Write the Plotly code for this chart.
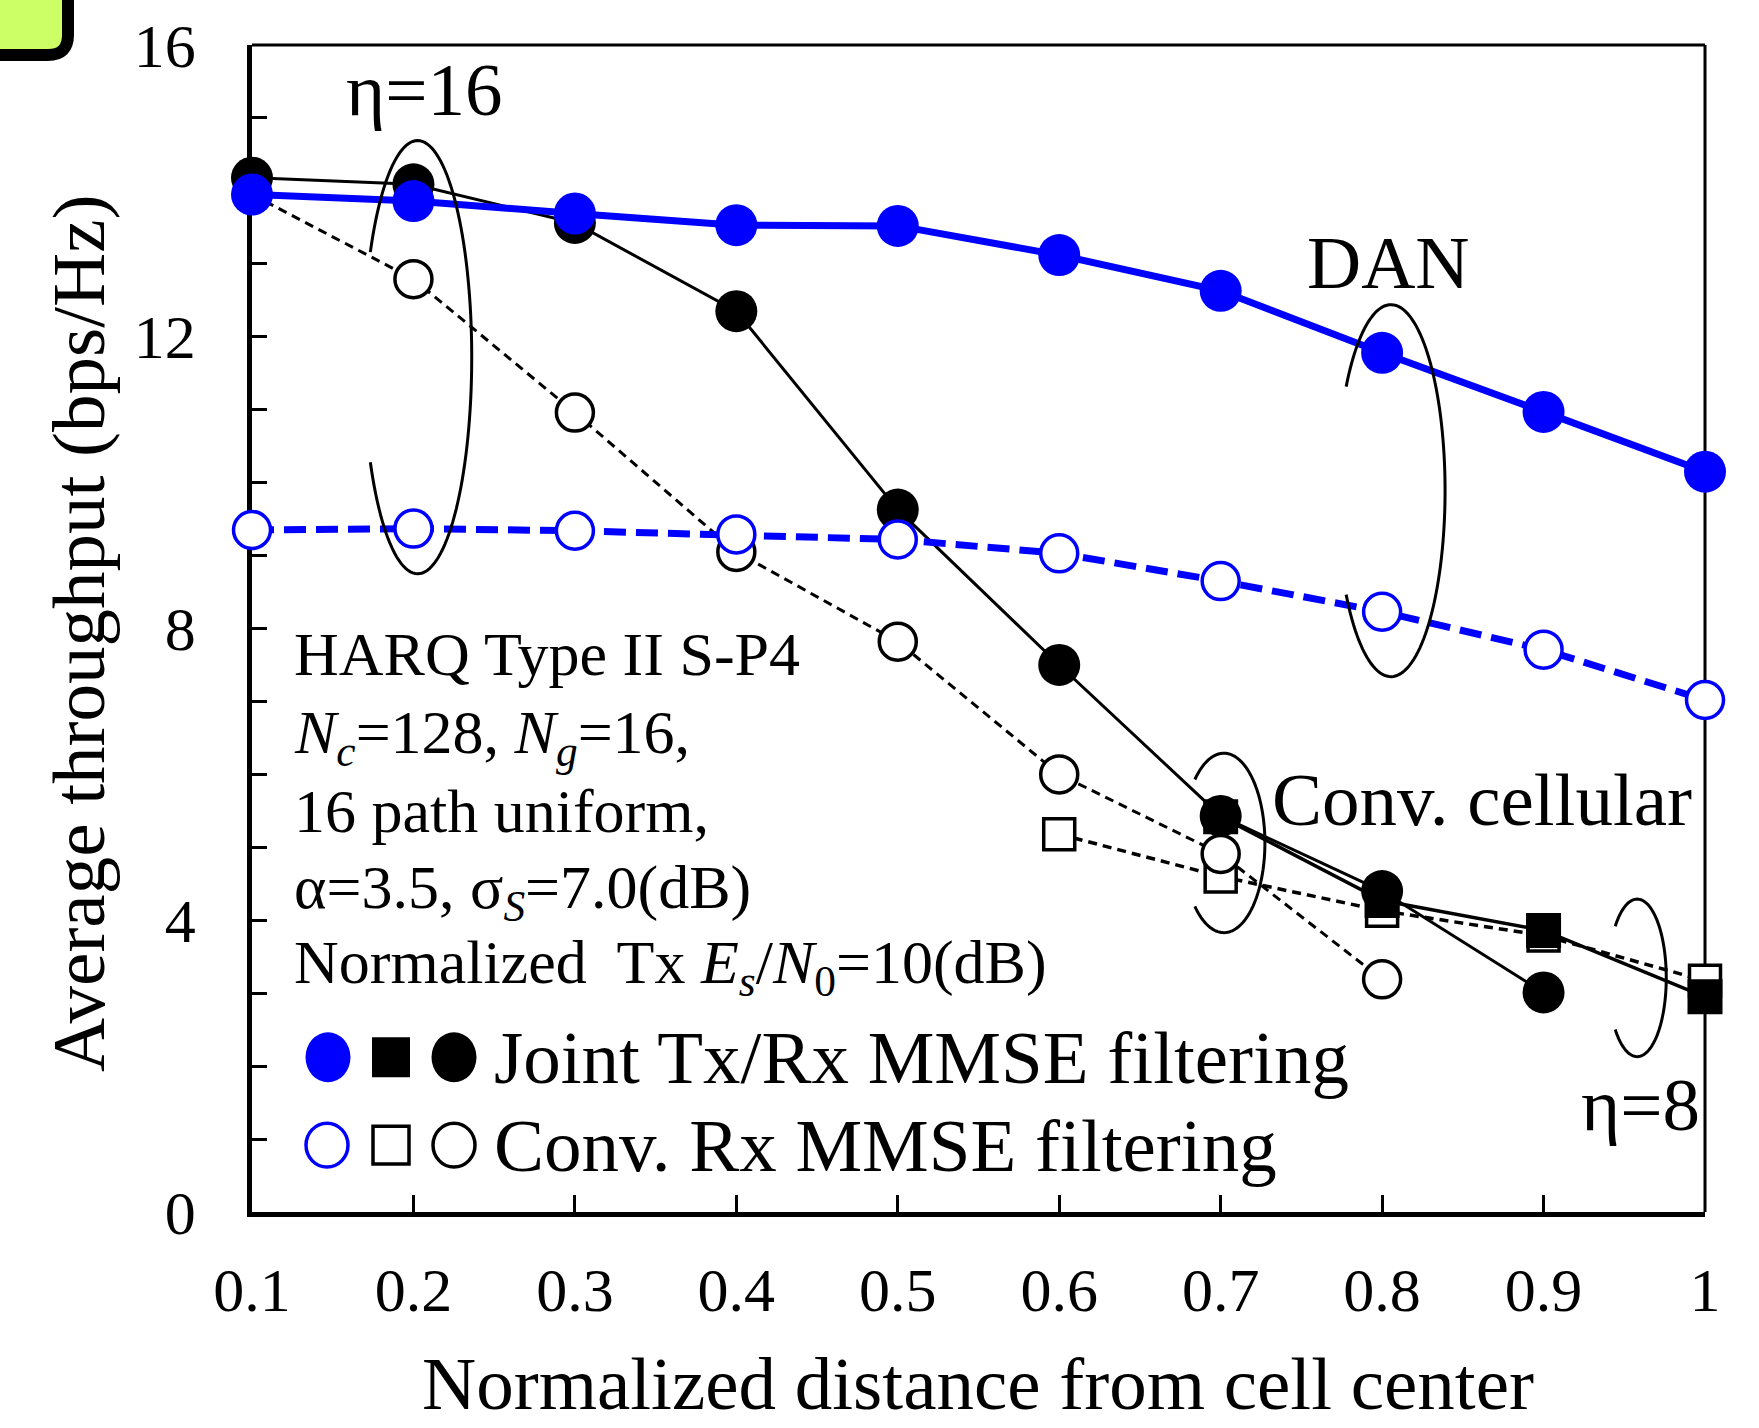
import numpy as np
import plotly.graph_objects as go

# ---------------- data ----------------
x_all = [0.1, 0.2, 0.3, 0.4, 0.5, 0.6, 0.7, 0.8, 0.9, 1.0]
dan_joint = [13.95, 13.86, 13.69, 13.53, 13.52, 13.12, 12.63, 11.78, 10.97, 10.15]
dan_conv = [9.35, 9.37, 9.34, 9.29, 9.22, 9.03, 8.65, 8.23, 7.71, 7.02]

x_cell16_joint = [0.1, 0.2, 0.3, 0.4, 0.5, 0.6, 0.7, 0.8, 0.9]
cell16_joint = [14.18, 14.09, 13.56, 12.35, 9.63, 7.50, 5.43, 4.40, 3.01]
x_cell16_conv = [0.1, 0.2, 0.3, 0.4, 0.5, 0.6, 0.7, 0.8]
cell16_conv = [13.95, 12.79, 10.96, 9.05, 7.82, 6.0, 4.91, 3.19]

x_cell8_conv = [0.6, 0.7, 0.8, 0.9, 1.0]
cell8_conv = [5.18, 4.60, 4.13, 3.79, 3.17]
x_cell8_joint = [0.7, 0.8, 0.9, 1.0]
cell8_joint = [5.42, 4.27, 3.86, 2.95]

x_tickvals = [0.1, 0.2, 0.3, 0.4, 0.5, 0.6, 0.7, 0.8, 0.9, 1.0]
x_ticktext = ["0.1", "0.2", "0.3", "0.4", "0.5", "0.6", "0.7", "0.8", "0.9", "1"]
y_tickvals = [0, 4, 8, 12, 16]
y_ticktext = ["0", "4", "8", "12", "16"]

# ---------------- layout geometry ----------------
W, H = 1759, 1428
ML, MR, MT, MB = 252, 54, 43, 216
PW, PH = W - ML - MR, H - MT - MB


def px(xp):
    return (xp - ML) / PW


def py(yp):
    return (H - MB - yp) / PH


FONT = "Liberation Serif, Times New Roman, serif"
BLUE = "#0000FF"

fig = go.Figure()

# conventional cellular, eta = 8
fig.add_trace(go.Scatter(
    x=x_cell8_conv, y=cell8_conv, mode="lines+markers", cliponaxis=False,
    line=dict(color="black", width=3.5, dash="9px,6px"),
    marker=dict(symbol="square", size=31, color="white", line=dict(color="black", width=3.5)),
    showlegend=False))
fig.add_trace(go.Scatter(
    x=x_cell8_joint, y=cell8_joint, mode="lines+markers", cliponaxis=False,
    line=dict(color="black", width=3.5),
    marker=dict(symbol="square", size=35, color="black", line=dict(width=0)),
    showlegend=False))
# conventional cellular, eta = 16
fig.add_trace(go.Scatter(
    x=x_cell16_joint, y=cell16_joint, mode="lines+markers", cliponaxis=False,
    line=dict(color="black", width=3),
    marker=dict(symbol="circle", size=42, color="black", line=dict(width=0)),
    showlegend=False))
fig.add_trace(go.Scatter(
    x=x_cell16_conv, y=cell16_conv, mode="lines+markers", cliponaxis=False,
    line=dict(color="black", width=3, dash="9px,6px"),
    marker=dict(symbol="circle", size=37, color="white", line=dict(color="black", width=3.5)),
    showlegend=False))
# DAN
fig.add_trace(go.Scatter(
    x=x_all, y=dan_conv, mode="lines+markers", cliponaxis=False,
    line=dict(color=BLUE, width=7, dash="22px,10px"),
    marker=dict(symbol="circle", size=37, color="white", line=dict(color=BLUE, width=3.5)),
    showlegend=False))
fig.add_trace(go.Scatter(
    x=x_all, y=dan_joint, mode="lines+markers", cliponaxis=False,
    line=dict(color=BLUE, width=7),
    marker=dict(symbol="circle", size=42, color=BLUE, line=dict(width=0)),
    showlegend=False))

shapes = []


def ellipse_arc(cx, cy, rx, ry, gap_deg):
    th = np.radians(np.linspace(-(180 - gap_deg), 180 - gap_deg, 120))
    xs = cx + rx * np.cos(th)
    ys = cy + ry * np.sin(th)
    return "M " + " L ".join(f"{a:.5f},{b:.5f}" for a, b in zip(xs, ys))


for cx, cy, rx, ry, g in [
    (0.2026, 11.72, 0.0335, 2.97, 29),   # eta=16
    (0.8055, 9.89, 0.0335, 2.55, 34),    # DAN
    (0.702, 5.06, 0.0254, 1.23, 45),     # Conv. cellular
    (0.958, 3.21, 0.018, 1.08, 41),      # eta=8
]:
    shapes.append(dict(type="path", xref="x", yref="y", path=ellipse_arc(cx, cy, rx, ry, g),
                       line=dict(color="black", width=3), layer="above"))

# top/right frame
shapes.append(dict(type="line", xref="paper", yref="paper", x0=0, x1=1, y0=1, y1=1,
                   line=dict(color="black", width=3), layer="below"))
shapes.append(dict(type="line", xref="paper", yref="paper", x0=1, x1=1, y0=0, y1=1,
                   line=dict(color="black", width=3), layer="below"))

# green label box at top-left corner (cut off)
bx0, by0, bx1, by1, rr = -40, -40, 68, 53, 20
box_path = (f"M {px(bx0)},{py(by0)} L {px(bx1)},{py(by0)} L {px(bx1)},{py(by1 - rr)} "
            f"Q {px(bx1)},{py(by1)} {px(bx1 - rr)},{py(by1)} L {px(bx0)},{py(by1)} Z")
shapes.append(dict(type="path", xref="paper", yref="paper", path=box_path,
                   fillcolor="#CCFF66", line=dict(color="black", width=12), layer="above"))

# custom legend markers
def circ(cx, cy, w, h, fill, lc, lw):
    return dict(type="circle", xref="paper", yref="paper",
                x0=px(cx - w / 2), x1=px(cx + w / 2), y0=py(cy + h / 2), y1=py(cy - h / 2),
                fillcolor=fill, line=dict(color=lc, width=lw), layer="above")


def sq(cx, cy, w, h, fill, lc, lw):
    return dict(type="rect", xref="paper", yref="paper",
                x0=px(cx - w / 2), x1=px(cx + w / 2), y0=py(cy + h / 2), y1=py(cy - h / 2),
                fillcolor=fill, line=dict(color=lc, width=lw), layer="above")


r1, r2 = 1057, 1145
shapes += [
    circ(328, r1, 45, 50, BLUE, BLUE, 0),
    sq(391, r1, 38, 40, "black", "black", 0),
    circ(454, r1, 45, 50, "black", "black", 0),
    circ(327, r2, 42, 44, "white", BLUE, 3.5),
    sq(391, r2, 36, 38, "white", "black", 3.5),
    circ(454, r2, 42, 44, "white", "black", 3.5),
]

annotations = []


def txt(text, xp, yp, size, xanchor="center", yanchor="middle", angle=0):
    annotations.append(dict(text=text, x=px(xp), y=py(yp), xref="paper", yref="paper",
                            xanchor=xanchor, yanchor=yanchor, showarrow=False, textangle=angle,
                            font=dict(family=FONT, size=size, color="black")))


txt("Normalized distance from cell center", 978, 1427, 75, yanchor="bottom")
txt("Average throughput (bps/Hz)", 79, 632, 75, angle=-90)
txt("η=16", 424, 88, 75)
txt("DAN", 1388, 261, 75)
txt("Conv. cellular", 1694, 799, 75, xanchor="right")
txt("η=8", 1702, 1104, 75, xanchor="right")

info_lines = [
    "HARQ Type II S-P4",
    "<i>N</i><sub><i>c</i></sub>=128, <i>N</i><sub><i>g</i></sub>=16,",
    "16 path uniform,",
    "α=3.5, σ<sub><i>S</i></sub>=7.0(dB)",
    "Normalized\u00a0 Tx <i>E</i><sub><i>s</i></sub>/<i>N</i><sub>0</sub>=10(dB)",
]
info_y = [653, 736, 810, 891, 966]
for line, yy in zip(info_lines, info_y):
    txt(line, 292, yy, 62, xanchor="left")

txt("Joint Tx/Rx MMSE filtering", 492, r1, 75, xanchor="left")
txt("Conv. Rx MMSE filtering", 492, r2, 75, xanchor="left")

fig.update_layout(
    width=W, height=H,
    margin=dict(l=ML, r=MR, t=MT, b=MB),
    paper_bgcolor="white", plot_bgcolor="white",
    font=dict(family=FONT, color="black"),
    shapes=shapes, annotations=annotations,
    showlegend=False,
)
fig.update_xaxes(
    range=[0.1, 1.0], tickvals=x_tickvals, ticktext=x_ticktext,
    ticks="inside", ticklen=17, tickwidth=3, tickcolor="black",
    showline=True, linewidth=4.5, linecolor="black", mirror=False,
    showgrid=False, zeroline=False, layer="below traces",
    tickfont=dict(family=FONT, size=62, color="black"), ticklabelstandoff=20,
)
fig.update_yaxes(
    range=[0, 16], tickvals=y_tickvals, ticktext=y_ticktext,
    ticks="inside", ticklen=15, tickwidth=3, tickcolor="black",
    minor=dict(dtick=1, ticks="inside", ticklen=15, tickwidth=3, tickcolor="black", showgrid=False),
    showline=True, linewidth=4.5, linecolor="black", mirror=False,
    showgrid=False, zeroline=False, layer="below traces",
    tickfont=dict(family=FONT, size=62, color="black"), ticklabelstandoff=39,
)

fig.write_html("out.html")
